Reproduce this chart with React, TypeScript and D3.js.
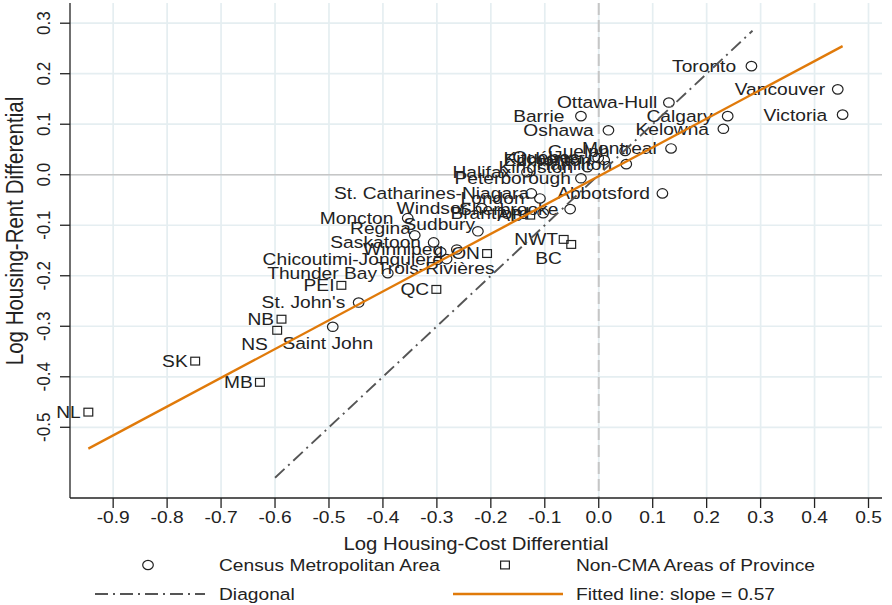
import React, { useEffect, useRef } from 'react';
import * as d3 from 'd3';

// Census Metropolitan Areas (hollow circles)
const CMA_NAMES = ['Toronto', 'Vancouver', 'Victoria', 'Ottawa-Hull', 'Calgary', 'Kelowna', 'Barrie', 'Oshawa',
  'Montreal', 'Guelph', 'Hamilton', 'Kitchener', 'Edmonton', 'Québec', 'Kingston', 'Halifax', 'Peterborough',
  'Abbotsford', 'St. Catharines-Niagara', 'London', 'Windsor', 'Sherbrooke', 'Brantford', 'Moncton', 'Regina',
  'Sudbury', 'Saskatoon', 'Winnipeg', 'Trois-Rivières', 'Chicoutimi-Jonquière', 'Thunder Bay', "St. John's", 'Saint John'];
const CMA_X = [0.283, 0.443, 0.452, 0.130, 0.239, 0.231, -0.033, 0.018,
  0.134, 0.049, 0.051, -0.001, 0.010, -0.008, -0.021, -0.133, -0.033,
  0.118, -0.125, -0.109, -0.217, -0.053, -0.103, -0.354, -0.341,
  -0.224, -0.306, -0.263, -0.293, -0.282, -0.391, -0.445, -0.493];
const CMA_Y = [0.215, 0.169, 0.119, 0.143, 0.116, 0.091, 0.116, 0.088,
  0.052, 0.047, 0.021, 0.033, 0.029, 0.035, 0.015, 0.005, -0.007,
  -0.037, -0.037, -0.047, -0.066, -0.068, -0.076, -0.086, -0.120,
  -0.112, -0.134, -0.148, -0.153, -0.167, -0.195, -0.253, -0.301];
// marker label clock positions (as in mlabvposition)
const CMA_POS = [9, 9, 9, 9, 9, 9, 9, 9,
  9, 9, 9, 9, 9, 9, 9, 9, 9,
  9, 9, 9, 9, 9, 9, 9, 10,
  10, 9, 9, 6, 9, 9, 9, 6];

// Non-CMA areas of province (hollow squares)
const PROV_NAMES = ['PEI', 'NB', 'NS', 'SK', 'MB', 'NL', 'QC', 'ON', 'NWT', 'BC', 'AB'];
const PROV_X = [-0.477, -0.588, -0.596, -0.748, -0.628, -0.946, -0.301, -0.207, -0.065, -0.051, -0.127];
const PROV_Y = [-0.219, -0.286, -0.308, -0.369, -0.411, -0.470, -0.227, -0.156, -0.128, -0.138, -0.080];
const PROV_POS = [9, 9, 8, 9, 9, 9, 9, 9, 9, 8, 9];

const FIT_SLOPE = 0.57;
const FIT_INTERCEPT = -0.003;
const DIAGONAL_RANGE = [-0.6, 0.285];

const X_TICKS = d3.range(-9, 6).map(i => i / 10);
const Y_TICKS = d3.range(-5, 4).map(i => i / 10);

const LEGEND = ['Census Metropolitan Area', 'Non-CMA Areas of Province', 'Diagonal', 'Fitted line: slope = 0.57'];

const FONT = "'Liberation Sans', Arial, Helvetica, sans-serif";
const FS = 17;
const SX = 1.13; // the whole graph is a bit wider than tall
const INK = '#222';
const ORANGE = '#e07a0a';
const DIAG = '#555';
const DASHDOT = '13,5,2,5';

const fmt = (v: number) => (Math.abs(v) < 1e-9 ? 0 : v).toFixed(1);

export default function App() {
  const ref = useRef<SVGSVGElement>(null);

  useEffect(() => {
    const svg = d3.select(ref.current);
    svg.selectAll('*').remove();

    const x = d3.scaleLinear().domain([-0.98, 0.525]).range([70, 882]);
    const y = d3.scaleLinear().domain([-0.64, 0.34]).range([498, 3]);
    const [x0, x1] = x.range();
    const [y0, y1] = y.range();

    const text = (parent, str, tx, ty, size = FS, anchor = 'start', rotate = 0) => {
      const g = parent.append('g')
        .attr('transform', `translate(${tx},${ty}) scale(${SX},1)${rotate ? ` rotate(${rotate})` : ''}`);
      return g.append('text')
        .attr('text-anchor', anchor)
        .attr('font-family', FONT)
        .attr('font-size', size)
        .attr('fill', INK)
        .text(str);
    };

    // grid
    const grid = svg.append('g').attr('stroke', '#e5eef1').attr('stroke-width', 1.7);
    X_TICKS.forEach(v => grid.append('line').attr('x1', x(v)).attr('x2', x(v)).attr('y1', y1).attr('y2', y0));
    Y_TICKS.forEach(v => grid.append('line').attr('x1', x0).attr('x2', x1).attr('y1', y(v)).attr('y2', y(v)));

    // zero reference lines
    svg.append('line').attr('x1', x0).attr('x2', x1).attr('y1', y(0)).attr('y2', y(0))
      .attr('stroke', '#c6c6c6').attr('stroke-width', 1.6);
    svg.append('line').attr('x1', x(0)).attr('x2', x(0)).attr('y1', y1).attr('y2', y0)
      .attr('stroke', '#c6c6c6').attr('stroke-width', 2).attr('stroke-dasharray', '12,5');

    // axes
    const axes = svg.append('g').attr('stroke', INK).attr('stroke-width', 1.3);
    axes.append('line').attr('x1', x0).attr('x2', x1).attr('y1', y0).attr('y2', y0);
    axes.append('line').attr('x1', x0).attr('x2', x0).attr('y1', y1).attr('y2', y0);
    X_TICKS.forEach(v => {
      axes.append('line').attr('x1', x(v)).attr('x2', x(v)).attr('y1', y0).attr('y2', y0 + 10);
      text(svg, fmt(v), x(v), 523, FS, 'middle');
    });
    Y_TICKS.forEach(v => {
      axes.append('line').attr('x1', x0 - 10).attr('x2', x0).attr('y1', y(v)).attr('y2', y(v));
      text(svg, fmt(v), 50, y(v), FS, 'middle', -90);
    });
    text(svg, 'Log Housing-Cost Differential', (x0 + x1) / 2, 550, 18, 'middle');
    text(svg, 'Log Housing-Rent Differential', 23, 231, 20.5, 'middle', -90);

    // marker labels, placed the way Stata places them
    const placeLabel = (name, pos, cx, cy, gap) => {
      const t = text(svg, name, 0, 0);
      const w = t.node().getComputedTextLength() * SX;
      let lx = cx - gap - 0.9 * w;
      let ly = cy;
      if (pos === 10) { lx = cx - 10 - 0.9 * w; ly = cy - 7; }
      if (pos === 8) { lx = cx - 12 - 0.9 * w; ly = cy + 14; }
      if (pos === 6) { lx = cx - 5 - w / 2; ly = cy + 16; }
      d3.select(t.node().parentNode).attr('transform', `translate(${lx},${ly + 0.35 * FS}) scale(${SX},1)`);
    };

    CMA_NAMES.forEach((name, i) => {
      const cx = x(CMA_X[i]), cy = y(CMA_Y[i]);
      svg.append('ellipse').attr('cx', cx).attr('cy', cy).attr('rx', 5.3).attr('ry', 4.7)
        .attr('fill', 'none').attr('stroke', INK).attr('stroke-width', 1.2);
      placeLabel(name, CMA_POS[i], cx, cy, 21.7);
    });
    PROV_NAMES.forEach((name, i) => {
      const cx = x(PROV_X[i]), cy = y(PROV_Y[i]);
      svg.append('rect').attr('x', cx - 4.4).attr('y', cy - 3.9).attr('width', 8.8).attr('height', 7.8)
        .attr('fill', 'none').attr('stroke', INK).attr('stroke-width', 1.2);
      placeLabel(name, PROV_POS[i], cx, cy, 10);
    });

    // diagonal and fitted line
    svg.append('line')
      .attr('x1', x(DIAGONAL_RANGE[0])).attr('y1', y(DIAGONAL_RANGE[0]))
      .attr('x2', x(DIAGONAL_RANGE[1])).attr('y2', y(DIAGONAL_RANGE[1]))
      .attr('stroke', DIAG).attr('stroke-width', 1.9).attr('stroke-dasharray', DASHDOT);
    const allX = CMA_X.concat(PROV_X);
    const [fx0, fx1] = d3.extent(allX);
    const fit = d3.line().x(d => x(d)).y(d => y(FIT_INTERCEPT + FIT_SLOPE * d));
    svg.append('path').attr('d', fit([fx0, fx1])).attr('fill', 'none')
      .attr('stroke', ORANGE).attr('stroke-width', 2.3);

    // legend
    const ly1 = 565, ly2 = 594;
    svg.append('ellipse').attr('cx', 148).attr('cy', ly1).attr('rx', 5.3).attr('ry', 4.7)
      .attr('fill', 'none').attr('stroke', INK).attr('stroke-width', 1.2);
    text(svg, LEGEND[0], 219, ly1 + 6);
    svg.append('rect').attr('x', 505 - 4.4).attr('y', ly1 - 3.9).attr('width', 8.8).attr('height', 7.8)
      .attr('fill', 'none').attr('stroke', INK).attr('stroke-width', 1.2);
    text(svg, LEGEND[1], 576, ly1 + 6);
    svg.append('line').attr('x1', 95).attr('x2', 205).attr('y1', ly2).attr('y2', ly2)
      .attr('stroke', DIAG).attr('stroke-width', 1.9).attr('stroke-dasharray', DASHDOT);
    text(svg, LEGEND[2], 219, ly2 + 6);
    svg.append('line').attr('x1', 453).attr('x2', 563).attr('y1', ly2).attr('y2', ly2)
      .attr('stroke', ORANGE).attr('stroke-width', 2.3);
    text(svg, LEGEND[3], 576, ly2 + 6);
  }, []);

  return (
    <svg ref={ref} width={892} height={605}
      style={{ position: 'absolute', left: 0, top: 0, background: '#fff' }} />
  );
}
